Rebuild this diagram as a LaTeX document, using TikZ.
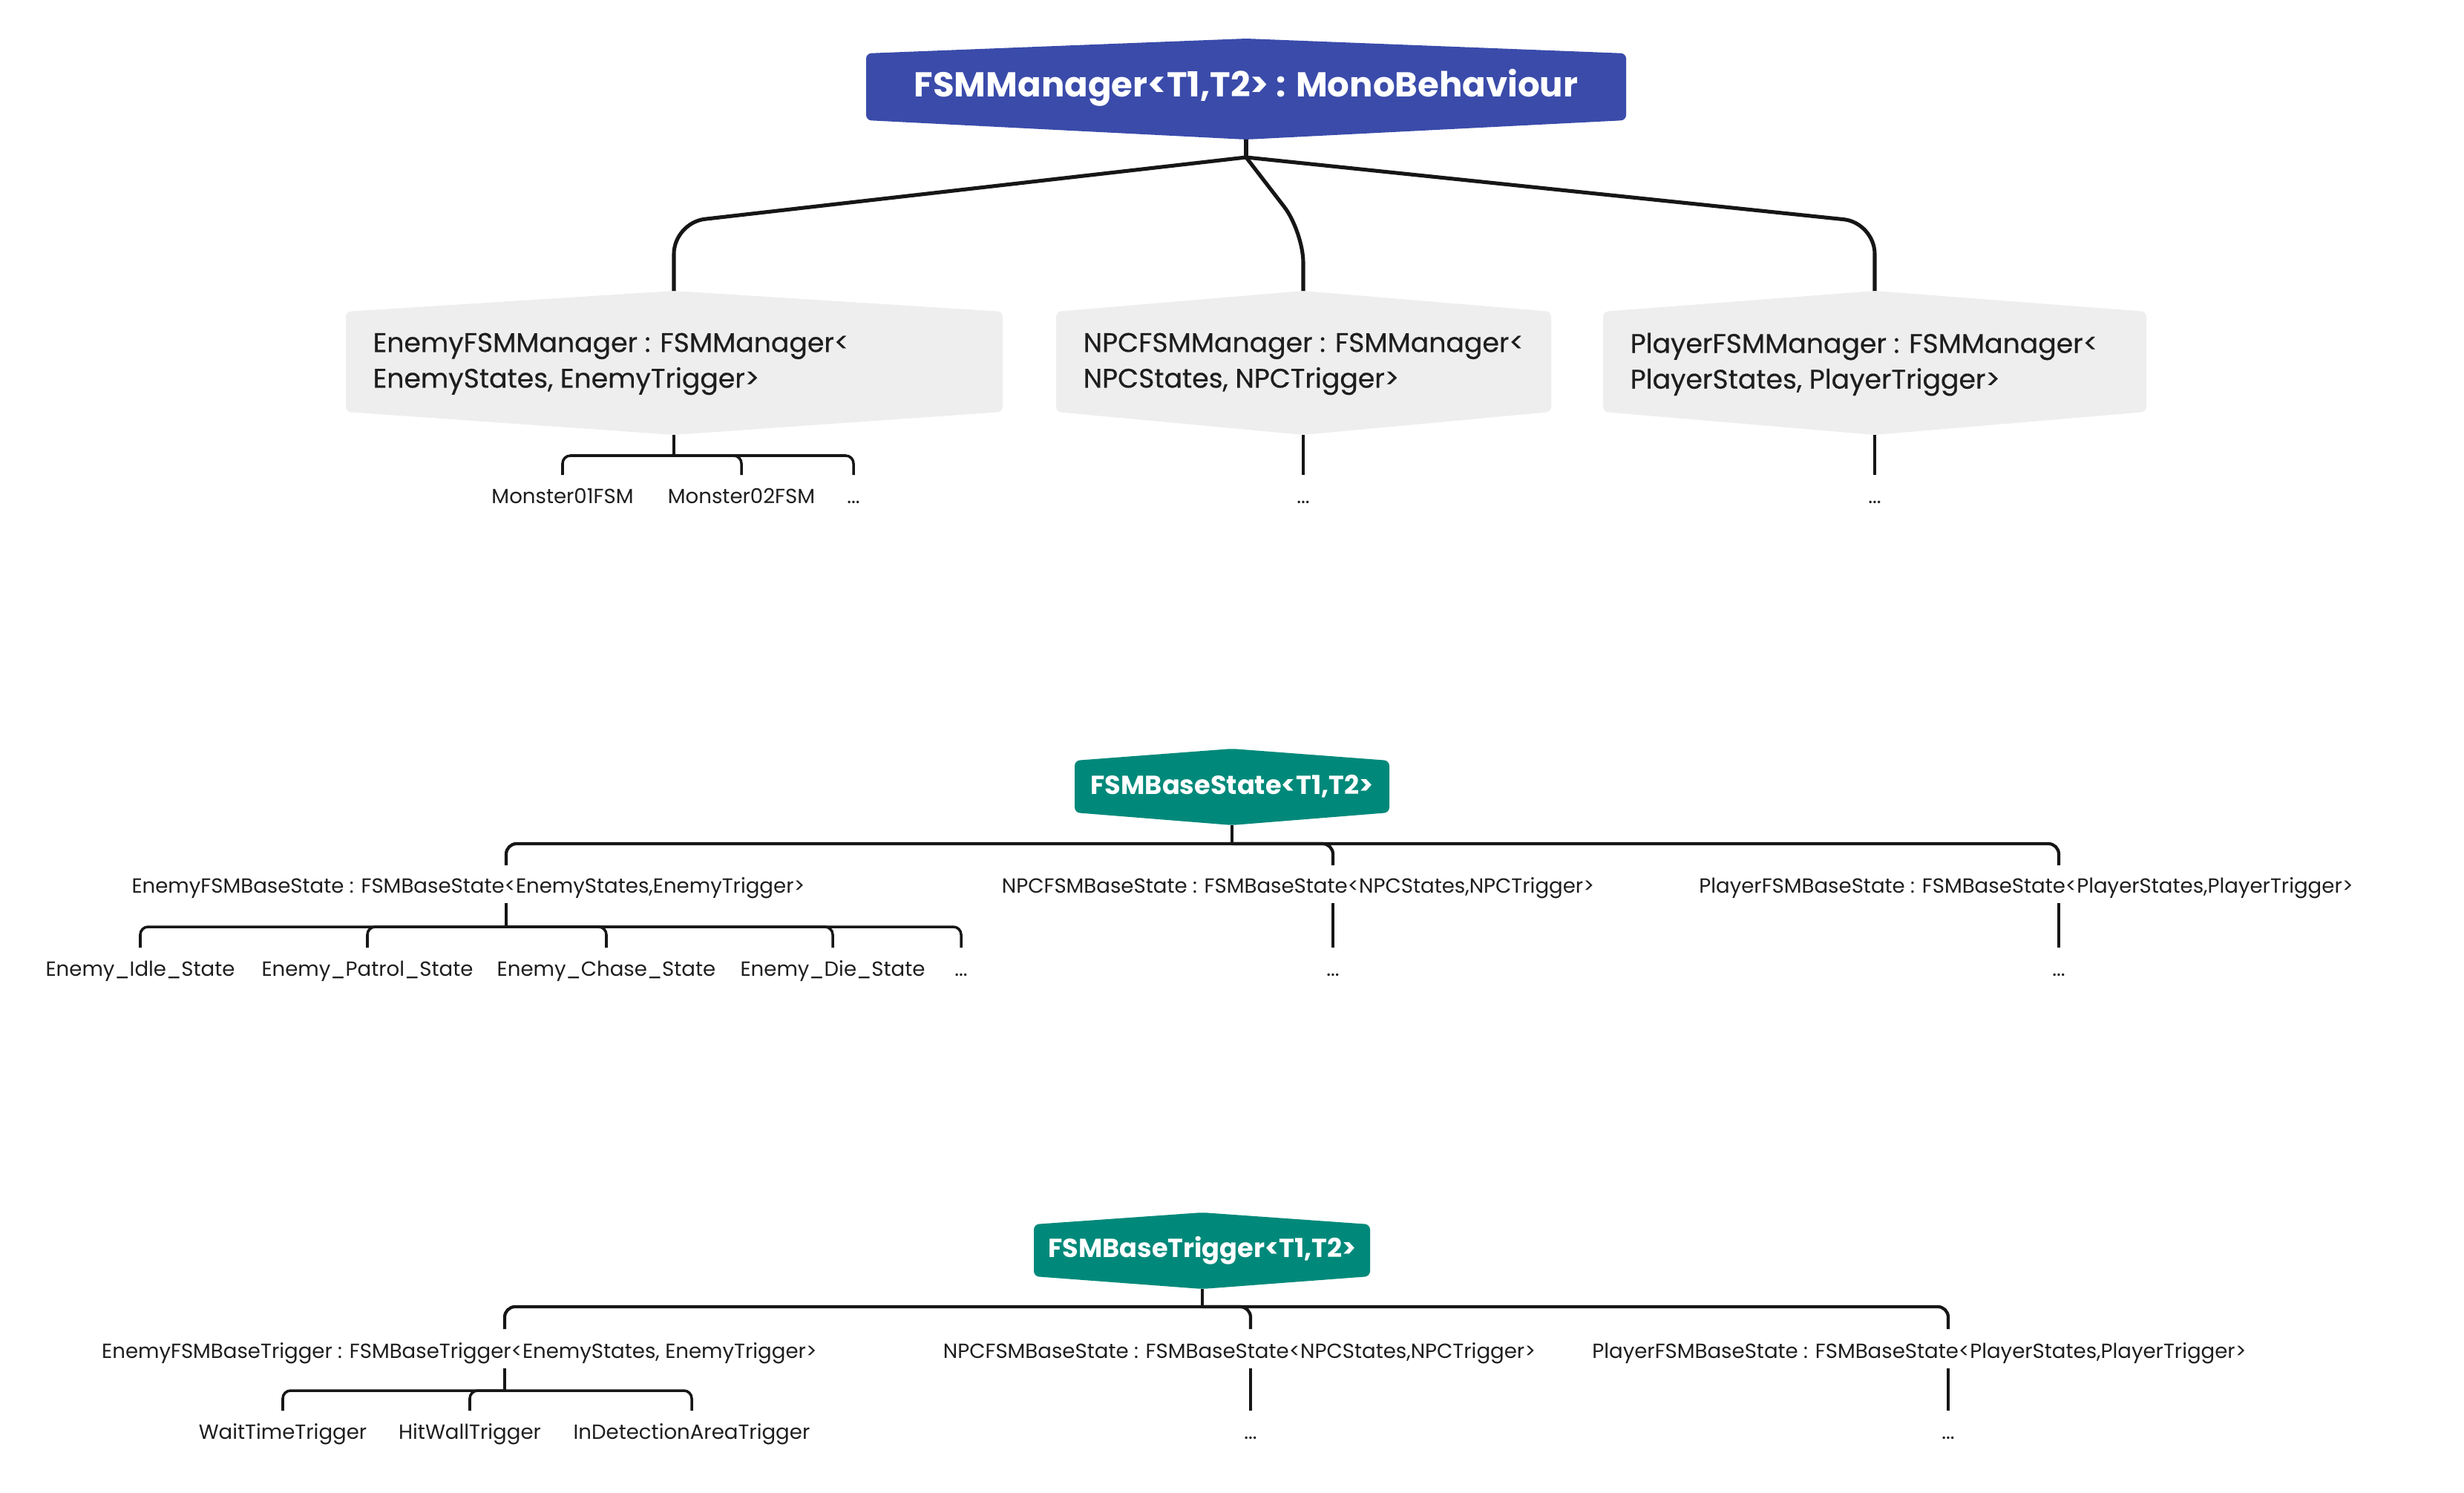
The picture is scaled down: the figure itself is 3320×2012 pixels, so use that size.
\documentclass[tikz,border=0pt]{standalone}
\usepackage{fontspec}
\setmainfont{Poppins}
\usepackage{xcolor}
\usepackage{tikz}

\definecolor{rootblue}{HTML}{3A4BAA}
\definecolor{baseteal}{HTML}{00897A}
\definecolor{topicgray}{HTML}{EEEEEE}
\definecolor{inkline}{HTML}{161616}
\definecolor{inktext}{HTML}{1E1E1E}

\begin{document}
\begin{tikzpicture}[
    x=0.01cm, y=-0.01cm,
    rootbox/.style={fill=rootblue, rounded corners=2pt},
    basebox/.style={fill=baseteal, rounded corners=2pt},
    topicbox/.style={fill=topicgray, rounded corners=2pt},
    roottext/.style={font=\fontsize{13.25}{16}\selectfont\bfseries, text=white, inner sep=0},
    basetext/.style={font=\fontsize{10}{12}\selectfont\bfseries, text=white, inner sep=0},
    topictext/.style={font=\fontsize{10.3}{13.7}\selectfont\addfontfeature{FakeBold=0.4}, text=inktext, align=left, inner sep=0, anchor=north west},
    leaf/.style={font=\fontsize{7.85}{9}\selectfont, text=inktext, inner sep=0, text height=5.5pt, text depth=1.7pt, anchor=base},
    link/.style={draw=inkline, line width=1.45pt, rounded corners=12pt},
    seclink/.style={draw=inkline, line width=1.2pt, rounded corners=4pt},
    sublink/.style={draw=inkline, line width=1pt, rounded corners=3pt},
]
    \fill[white] (0,0) rectangle (3320,2012);
    \useasboundingbox (0,0) rectangle (3320,2012);

    % FSMManager
    \fill[rootbox] (1167,72) -- (1679,52) -- (2191,72) -- (2191,162) -- (1679,188) -- (1167,162) -- cycle;
    \node[roottext] (mgr) at (1679,118) {FSMManager<T1,T2> : MonoBehaviour};
    \coordinate (mgr-b) at (1679,188);
    \coordinate (mgr-j) at (1679,212);

    \fill[topicbox] (466,420) -- (908,392) -- (1351,420) -- (1351,555) -- (908,586) -- (466,555) -- cycle;
    \node[topictext] (enemymgr) at (502,448) {EnemyFSMManager : FSMManager<\\EnemyStates, EnemyTrigger>};
    \coordinate (enemymgr-t) at (908,392);
    \coordinate (enemymgr-b) at (908,586);
    \coordinate (enemymgr-j) at (908,614);

    \fill[topicbox] (1423,420) -- (1756,392) -- (2090,420) -- (2090,555) -- (1756,586) -- (1423,555) -- cycle;
    \node[topictext] (npcmgr) at (1459,448) {NPCFSMManager : FSMManager<\\NPCStates, NPCTrigger>};
    \coordinate (npcmgr-t) at (1756,392);
    \coordinate (npcmgr-b) at (1756,586);

    \fill[topicbox] (2160,420) -- (2526,392) -- (2892,420) -- (2892,555) -- (2526,586) -- (2160,555) -- cycle;
    \node[topictext] (playermgr) at (2196,448) {PlayerFSMManager : FSMManager<\\PlayerStates, PlayerTrigger>};
    \coordinate (playermgr-t) at (2526,392);
    \coordinate (playermgr-b) at (2526,586);

    \draw[link] (mgr-b) -- (mgr-j);
    \draw[link] (mgr-j) -- (908,300) -- (enemymgr-t);
    \draw[link] (mgr-j) -- (1756,312) -- (npcmgr-t);
    \draw[link] (mgr-j) -- (2526,300) -- (playermgr-t);

    \node[leaf] (m01) at (758,678) {Monster01FSM};
    \node[leaf] (m02) at (999,678) {Monster02FSM};
    \node[leaf] (mmore) at (1150,678) {...};
    \node[leaf] (npcmore) at (1756,678) {...};
    \node[leaf] (playermore) at (2526,678) {...};

    \draw[sublink] (enemymgr-b) -- (enemymgr-j);
    \draw[sublink] (enemymgr-j) -| ([yshift=5.1pt]m01.north);
    \draw[sublink] (enemymgr-j) -| ([yshift=5.1pt]m02.north);
    \draw[sublink] (enemymgr-j) -| ([yshift=5.1pt]mmore.north);
    \draw[sublink] (npcmgr-b) -- ([yshift=5.1pt]npcmore.north);
    \draw[sublink] (playermgr-b) -- ([yshift=5.1pt]playermore.north);

    % FSMBaseState
    \fill[basebox] (1448,1025) -- (1660,1009) -- (1872,1025) -- (1872,1095) -- (1660,1112) -- (1448,1095) -- cycle;
    \node[basetext] (state) at (1660,1060) {FSMBaseState<T1,T2>};
    \coordinate (state-b) at (1660,1112);
    \coordinate (state-j) at (1660,1137);

    \node[leaf] (enemystate) at (631,1203) {EnemyFSMBaseState : FSMBaseState<EnemyStates,EnemyTrigger>};
    \node[leaf] (npcstate) at (1749,1203) {NPCFSMBaseState : FSMBaseState<NPCStates,NPCTrigger>};
    \node[leaf] (playerstate) at (2730,1203) {PlayerFSMBaseState : FSMBaseState<PlayerStates,PlayerTrigger>};
    \coordinate (enemystate-t) at (682,1166);
    \coordinate (enemystate-b) at (682,1217);
    \coordinate (enemystate-j) at (682,1249);
    \coordinate (npcstate-t) at (1796,1166);
    \coordinate (npcstate-b) at (1796,1217);
    \coordinate (playerstate-t) at (2774,1166);
    \coordinate (playerstate-b) at (2774,1217);

    \draw[seclink] (state-b) -- (state-j);
    \draw[seclink] (state-j) -| (enemystate-t);
    \draw[seclink] (state-j) -| (npcstate-t);
    \draw[seclink] (state-j) -| (playerstate-t);

    \node[leaf] (idle) at (189,1315) {Enemy\_Idle\_State};
    \node[leaf] (patrol) at (495,1315) {Enemy\_Patrol\_State};
    \node[leaf] (chase) at (817,1315) {Enemy\_Chase\_State};
    \node[leaf] (die) at (1122,1315) {Enemy\_Die\_State};
    \node[leaf] (statemore) at (1295,1315) {...};
    \node[leaf] (npcstatemore) at (1796,1315) {...};
    \node[leaf] (playerstatemore) at (2774,1315) {...};

    \draw[sublink] (enemystate-b) -- (enemystate-j);
    \draw[sublink] (enemystate-j) -| ([yshift=5.1pt]idle.north);
    \draw[sublink] (enemystate-j) -| ([yshift=5.1pt]patrol.north);
    \draw[sublink] (enemystate-j) -| ([yshift=5.1pt]chase.north);
    \draw[sublink] (enemystate-j) -| ([yshift=5.1pt]die.north);
    \draw[sublink] (enemystate-j) -| ([yshift=5.1pt]statemore.north);
    \draw[sublink] (npcstate-b) -- ([yshift=5.1pt]npcstatemore.north);
    \draw[sublink] (playerstate-b) -- ([yshift=5.1pt]playerstatemore.north);

    % FSMBaseTrigger
    \fill[basebox] (1393,1650) -- (1620,1634) -- (1846,1650) -- (1846,1720) -- (1620,1737) -- (1393,1720) -- cycle;
    \node[basetext] (trigger) at (1620,1685) {FSMBaseTrigger<T1,T2>};
    \coordinate (trigger-b) at (1620,1737);
    \coordinate (trigger-j) at (1620,1761);

    \node[leaf] (enemytrigger) at (619,1830) {EnemyFSMBaseTrigger : FSMBaseTrigger<EnemyStates, EnemyTrigger>};
    \node[leaf] (npctrigger) at (1670,1830) {NPCFSMBaseState : FSMBaseState<NPCStates,NPCTrigger>};
    \node[leaf] (playertrigger) at (2586,1830) {PlayerFSMBaseState : FSMBaseState<PlayerStates,PlayerTrigger>};
    \coordinate (enemytrigger-t) at (680,1791);
    \coordinate (enemytrigger-b) at (680,1844);
    \coordinate (enemytrigger-j) at (680,1874);
    \coordinate (npctrigger-t) at (1685,1791);
    \coordinate (npctrigger-b) at (1685,1844);
    \coordinate (playertrigger-t) at (2625,1791);
    \coordinate (playertrigger-b) at (2625,1844);

    \draw[seclink] (trigger-b) -- (trigger-j);
    \draw[seclink] (trigger-j) -| (enemytrigger-t);
    \draw[seclink] (trigger-j) -| (npctrigger-t);
    \draw[seclink] (trigger-j) -| (playertrigger-t);

    \node[leaf] (waittime) at (381,1939) {WaitTimeTrigger};
    \node[leaf] (hitwall) at (633,1939) {HitWallTrigger};
    \node[leaf] (detection) at (932,1939) {InDetectionAreaTrigger};
    \node[leaf] (npctriggermore) at (1685,1939) {...};
    \node[leaf] (playertriggermore) at (2625,1939) {...};

    \draw[sublink] (enemytrigger-b) -- (enemytrigger-j);
    \draw[sublink] (enemytrigger-j) -| ([yshift=5.1pt]waittime.north);
    \draw[sublink] (enemytrigger-j) -| ([yshift=5.1pt]hitwall.north);
    \draw[sublink] (enemytrigger-j) -| ([yshift=5.1pt]detection.north);
    \draw[sublink] (npctrigger-b) -- ([yshift=5.1pt]npctriggermore.north);
    \draw[sublink] (playertrigger-b) -- ([yshift=5.1pt]playertriggermore.north);
\end{tikzpicture}
\end{document}
